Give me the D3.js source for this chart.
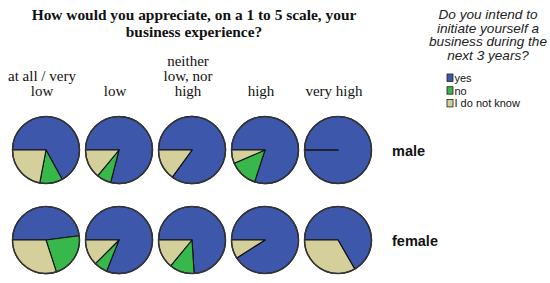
<!DOCTYPE html>
<html><head><meta charset="utf-8">
<script src="https://cdn.jsdelivr.net/npm/d3@7"></script>
<style>body{margin:0;background:#fff}svg{display:block}</style>
</head><body>
<script>
const categories = [["at all / very","low"],["low"],["neither","low, nor","high"],["high"],["very high"]];
const genders = ["male","female"];
const answers = ["yes","no","I do not know"];
const maleYes  = [67, 79, 85, 80, 100];
const maleNo   = [11, 7, 0, 13.5, 0];
const maleDk   = [22, 14, 15, 6.5, 0];
const femaleYes = [48, 81, 74, 91, 66.7];
const femaleNo  = [22, 6.5, 12, 0, 0];
const femaleDk  = [30, 12.5, 14, 9, 33.3];
const titleLines = ["How would you appreciate, on a 1 to 5 scale, your","business experience?"];
const legendTitle = ["Do you intend to","initiate yourself a","business during the","next 3 years?"];

const W=550,H=283;
const colors = d3.scaleOrdinal().domain(answers).range(["#3d58ab","#38b74a","#d5d09b"]);
const svg = d3.select("body").append("svg").attr("width",W).attr("height",H);

const x = d3.scalePoint().domain(d3.range(5)).range([46,338]);
const y = d3.scalePoint().domain(genders).range([150,240]);
const r = 33.5;

titleLines.forEach((l,i)=>svg.append("text").attr("font-family","Liberation Serif").attr("font-weight","bold")
  .attr("font-size",15.4).attr("text-anchor","middle").attr("fill","#111")
  .attr("x",194).attr("y",20+i*17).text(l));

categories.forEach((lines,i)=>{
  const g = svg.append("text").attr("font-family","Liberation Serif").attr("font-size",15).attr("text-anchor","middle").attr("fill","#111");
  lines.forEach((l,j)=>g.append("tspan").attr("x",x(i)-4).attr("y",96-(lines.length-1-j)*15).text(l));
});

const data = {male:[maleYes,maleNo,maleDk], female:[femaleYes,femaleNo,femaleDk]};
const pie = d3.pie().sort(null).startAngle(-Math.PI/2).endAngle(3*Math.PI/2);
const arc = d3.arc().innerRadius(0).outerRadius(r);
genders.forEach(gd=>{
  d3.range(5).forEach(i=>{
    const vals = data[gd].map(s=>s[i]);
    const g = svg.append("g").attr("transform",`translate(${x(i)},${y(gd)})`);
    g.selectAll("path").data(pie(vals)).join("path")
      .attr("d",arc).attr("fill",(d,k)=>colors(answers[k]))
      .attr("stroke","#111").attr("stroke-width",1.1).attr("stroke-linejoin","round");
    g.append("circle").attr("r",r).attr("fill","none").attr("stroke","#333").attr("stroke-width",1.5);
  });
  svg.append("text").attr("x",392).attr("y",y(gd)+6).attr("font-family","Liberation Sans").attr("font-weight","bold").attr("font-size",14.5).attr("fill","#111").text(gd);
});

const lt = svg.append("text").attr("font-family","Liberation Sans").attr("font-style","italic").attr("font-size",13.6).attr("text-anchor","middle").attr("fill","#222");
legendTitle.forEach((l,i)=>lt.append("tspan").attr("x",488).attr("y",19+i*13.7).text(l));
answers.forEach((a,i)=>{
  svg.append("rect").attr("x",447).attr("y",74+i*12.7).attr("width",6).attr("height",7.5).attr("fill",colors(a)).attr("stroke","#222").attr("stroke-width",0.8);
  svg.append("text").attr("x",454.5).attr("y",82+i*12.7).attr("font-family","Liberation Sans").attr("font-size",11).attr("fill","#111").text(a);
});
</script>
</body></html>
